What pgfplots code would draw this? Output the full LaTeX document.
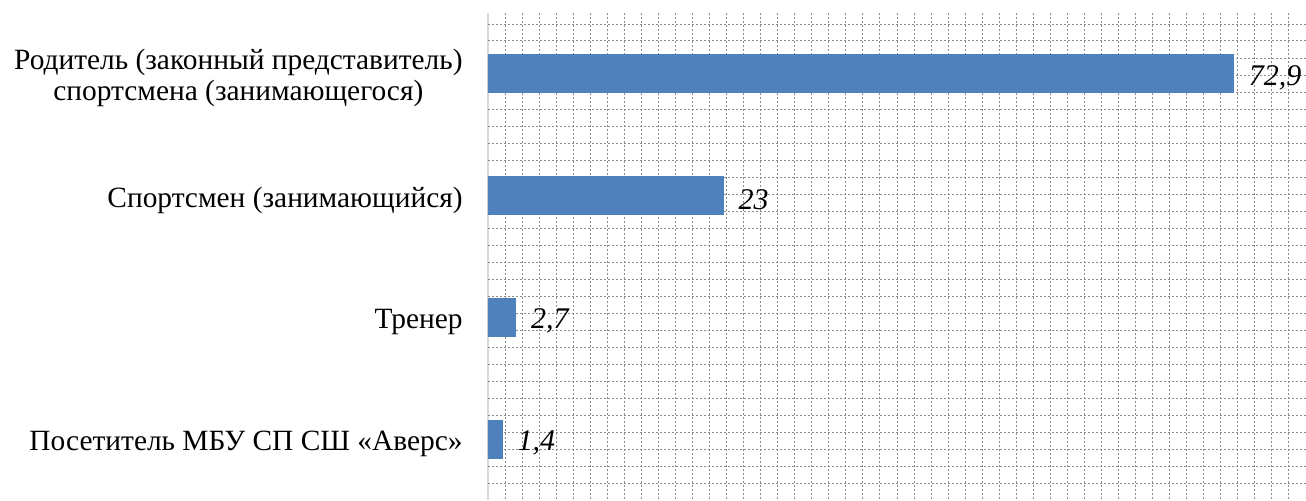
\documentclass[border=0pt]{standalone}
\usepackage{fontspec}
\setmainfont{Liberation Serif}
\usepackage{pgfplots}
\pgfplotsset{compat=1.18}
\definecolor{barblue}{HTML}{4F81BD}
\definecolor{axgray}{HTML}{D9D9D9}
\definecolor{gridgray}{HTML}{8C8C8C}
\begin{document}
\begin{tikzpicture}
\useasboundingbox (0,0) rectangle (653pt,250pt);
\begin{axis}[
  at={(244pt,0pt)}, anchor=south west,
  width=409pt, height=243.5pt, scale only axis,
  xbar, bar width=19pt,
  xmin=0, xmax=80,
  ymin=-0.5, ymax=3.5, y dir=reverse,
  xtick={0,5,...,80}, minor x tick num=2,
  xticklabels={},
  xmajorgrids, xminorgrids,
  ytick={0,1,2,3},
  yticklabels={{Родитель (законный представитель)\\спортсмена (занимающегося)},{Спортсмен (занимающийся)},{Тренер},{Посетитель МБУ СП СШ «Аверс»}},
  yticklabel style={align=center, inner sep=0pt, xshift=-12.5pt, yshift=-2.2pt, font=\fontsize{14.7}{15.5}\selectfont, text=black},
  major tick length=0pt, minor tick length=0pt,
  extra y ticks={-0.4097,-0.2701,-0.1304,0.0092,0.1489,0.2885,0.4281,0.5678,0.7074,0.8470,0.9867,1.1263,1.2660,1.4056,1.5452,1.6849,1.8245,1.9641,2.1038,2.2434,2.3830,2.5227,2.6623,2.8019,2.9416,3.0812,3.2208,3.3605},
  extra y tick labels={},
  extra y tick style={grid=major, major tick length=0pt},
  grid style={draw=gridgray, line width=0.5pt, dash pattern=on 1pt off 1pt},
  minor grid style={draw=gridgray, line width=0.5pt, dash pattern=on 1pt off 1pt},
  major grid style={draw=gridgray, line width=0.5pt, dash pattern=on 1pt off 1pt},
  axis lines*=left,
  x axis line style={draw=none},
  y axis line style={draw=axgray, line width=1pt},
  clip=false,
  point meta=x,
  nodes near coords={\itshape\pgfmathprintnumber[use comma, assume math mode=true, fixed, precision=1]{\pgfplotspointmeta}},
  every node near coord/.append style={font=\fontsize{15}{18}\selectfont, text=black, anchor=west, inner sep=0pt, xshift=7.5pt, yshift=-1.8pt},
]
\addplot[fill=barblue, draw=barblue] coordinates {(72.9,0) (23,1) (2.7,2) (1.4,3)};
\end{axis}
\end{tikzpicture}
\end{document}
